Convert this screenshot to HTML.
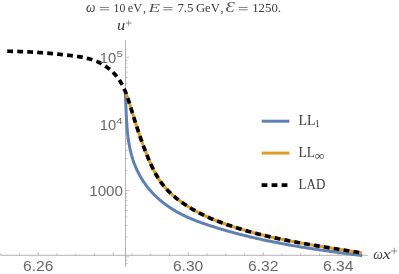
<!DOCTYPE html>
<html><head><meta charset="utf-8">
<style>
html,body{margin:0;padding:0;background:#fff;}
body{width:399px;height:274px;overflow:hidden;position:relative;font-family:"Liberation Sans",sans-serif;}
svg{position:absolute;left:0;top:0;display:block;will-change:transform;transform:translateZ(0);}
.sans{font-family:"Liberation Sans",sans-serif;fill:#6b6b6b;}
.serif{font-family:"Liberation Serif",serif;fill:#3c3c3c;}
</style></head><body>
<svg width="399" height="274" viewBox="0 0 399 274">
<rect x="0" y="0" width="399" height="274" fill="#ffffff"/>
<g stroke="#949494" stroke-width="0.7" fill="none">
<line x1="0.6" y1="255.3" x2="367.8" y2="255.3"/>
<line x1="125.5" y1="40.1" x2="125.5" y2="266.7"/>
</g>
<g stroke="#979797" stroke-width="0.6" fill="none">
<line x1="0.75" y1="255.3" x2="0.75" y2="253.4"/>
<line x1="19.50" y1="255.3" x2="19.50" y2="253.4"/>
<line x1="38.25" y1="255.3" x2="38.25" y2="252.10000000000002"/>
<line x1="57.00" y1="255.3" x2="57.00" y2="253.4"/>
<line x1="75.75" y1="255.3" x2="75.75" y2="253.4"/>
<line x1="94.50" y1="255.3" x2="94.50" y2="253.4"/>
<line x1="113.25" y1="255.3" x2="113.25" y2="252.10000000000002"/>
<line x1="132.00" y1="255.3" x2="132.00" y2="253.4"/>
<line x1="150.75" y1="255.3" x2="150.75" y2="253.4"/>
<line x1="169.50" y1="255.3" x2="169.50" y2="253.4"/>
<line x1="188.25" y1="255.3" x2="188.25" y2="252.10000000000002"/>
<line x1="207.00" y1="255.3" x2="207.00" y2="253.4"/>
<line x1="225.75" y1="255.3" x2="225.75" y2="253.4"/>
<line x1="244.50" y1="255.3" x2="244.50" y2="253.4"/>
<line x1="263.25" y1="255.3" x2="263.25" y2="252.10000000000002"/>
<line x1="282.00" y1="255.3" x2="282.00" y2="253.4"/>
<line x1="300.75" y1="255.3" x2="300.75" y2="253.4"/>
<line x1="319.50" y1="255.3" x2="319.50" y2="253.4"/>
<line x1="338.25" y1="255.3" x2="338.25" y2="252.10000000000002"/>
<line x1="357.00" y1="255.3" x2="357.00" y2="253.4"/>
<line x1="125.5" y1="263.48" x2="127.5" y2="263.48"/>
<line x1="125.5" y1="260.07" x2="127.5" y2="260.07"/>
<line x1="125.5" y1="257.02" x2="129.0" y2="257.02"/>
<line x1="125.5" y1="236.98" x2="127.5" y2="236.98"/>
<line x1="125.5" y1="225.26" x2="127.5" y2="225.26"/>
<line x1="125.5" y1="216.94" x2="127.5" y2="216.94"/>
<line x1="125.5" y1="210.49" x2="127.5" y2="210.49"/>
<line x1="125.5" y1="205.22" x2="127.5" y2="205.22"/>
<line x1="125.5" y1="200.76" x2="127.5" y2="200.76"/>
<line x1="125.5" y1="196.90" x2="127.5" y2="196.90"/>
<line x1="125.5" y1="193.50" x2="127.5" y2="193.50"/>
<line x1="125.5" y1="190.45" x2="129.0" y2="190.45"/>
<line x1="125.5" y1="170.41" x2="127.5" y2="170.41"/>
<line x1="125.5" y1="158.69" x2="127.5" y2="158.69"/>
<line x1="125.5" y1="150.37" x2="127.5" y2="150.37"/>
<line x1="125.5" y1="143.92" x2="127.5" y2="143.92"/>
<line x1="125.5" y1="138.64" x2="127.5" y2="138.64"/>
<line x1="125.5" y1="134.19" x2="127.5" y2="134.19"/>
<line x1="125.5" y1="130.33" x2="127.5" y2="130.33"/>
<line x1="125.5" y1="126.92" x2="127.5" y2="126.92"/>
<line x1="125.5" y1="123.88" x2="129.0" y2="123.88"/>
<line x1="125.5" y1="103.83" x2="127.5" y2="103.83"/>
<line x1="125.5" y1="92.11" x2="127.5" y2="92.11"/>
<line x1="125.5" y1="83.79" x2="127.5" y2="83.79"/>
<line x1="125.5" y1="77.34" x2="127.5" y2="77.34"/>
<line x1="125.5" y1="72.07" x2="127.5" y2="72.07"/>
<line x1="125.5" y1="67.61" x2="127.5" y2="67.61"/>
<line x1="125.5" y1="63.75" x2="127.5" y2="63.75"/>
<line x1="125.5" y1="60.35" x2="127.5" y2="60.35"/>
<line x1="125.5" y1="57.30" x2="129.0" y2="57.30"/>
</g>
<path d="M125.37,94.22 L125.43,95.46 L125.49,96.71 L125.55,97.96 L125.61,99.22 L125.67,100.49 L125.72,101.77 L125.77,103.05 L125.82,104.34 L125.87,105.63 L125.93,106.92 L125.98,108.23 L126.03,109.53 L126.08,110.84 L126.14,112.16 L126.20,113.47 L126.26,114.79 L126.32,116.12 L126.39,117.44 L126.46,118.77 L126.53,120.10 L126.61,121.43 L126.70,122.77 L126.79,124.10 L126.88,125.44 L126.98,126.77 L127.09,128.11 L127.21,129.44 L127.33,130.78 L127.46,132.11 L127.60,133.44 L127.75,134.78 L127.91,136.11 L128.08,137.43 L128.25,138.76 L128.44,140.08 L128.64,141.40 L128.85,142.72 L129.07,144.03 L129.31,145.34 L129.55,146.65 L129.82,147.95 L130.09,149.25 L130.38,150.54 L130.68,151.82 L130.99,153.10 L131.33,154.38 L131.67,155.65 L132.04,156.91 L132.42,158.16 L132.81,159.41 L133.23,160.65 L133.66,161.88 L134.10,163.11 L134.57,164.33 L135.05,165.54 L135.54,166.74 L136.05,167.93 L136.58,169.12 L137.13,170.29 L137.69,171.46 L138.27,172.62 L138.86,173.77 L139.48,174.91 L140.10,176.05 L140.75,177.17 L141.41,178.28 L142.08,179.39 L142.78,180.48 L143.49,181.57 L144.21,182.64 L144.95,183.70 L145.71,184.76 L146.48,185.80 L147.27,186.83 L148.08,187.85 L148.90,188.86 L149.74,189.86 L150.59,190.85 L151.46,191.83 L152.35,192.79 L153.25,193.74 L154.16,194.68 L155.10,195.61 L156.05,196.53 L157.01,197.43 L157.99,198.32 L158.98,199.20 L159.98,200.07 L160.99,200.92 L162.02,201.76 L163.06,202.59 L164.11,203.40 L165.17,204.20 L166.24,204.99 L167.32,205.76 L168.40,206.52 L169.50,207.27 L170.60,208.00 L171.71,208.71 L172.82,209.41 L173.94,210.10 L175.07,210.77 L176.20,211.43 L177.33,212.07 L178.48,212.70 L179.62,213.32 L180.77,213.93 L181.93,214.52 L183.09,215.10 L184.26,215.67 L185.43,216.23 L186.61,216.78 L187.79,217.32 L188.97,217.84 L190.16,218.36 L191.36,218.87 L192.55,219.37 L193.76,219.86 L194.96,220.34 L196.17,220.81 L197.39,221.28 L198.61,221.74 L199.83,222.19 L201.05,222.63 L202.28,223.07 L203.51,223.51 L204.75,223.93 L205.99,224.35 L207.23,224.77 L208.47,225.18 L209.72,225.59 L210.97,226.00 L212.22,226.40 L213.48,226.80 L214.74,227.19 L216.00,227.58 L217.26,227.97 L218.53,228.36 L219.80,228.74 L221.07,229.12 L222.34,229.49 L223.61,229.87 L224.89,230.24 L226.17,230.60 L227.45,230.97 L228.73,231.33 L230.01,231.69 L231.30,232.04 L232.58,232.39 L233.87,232.74 L235.16,233.09 L236.45,233.43 L237.74,233.77 L239.03,234.10 L240.32,234.44 L241.61,234.77 L242.90,235.09 L244.20,235.42 L245.49,235.74 L246.79,236.06 L248.08,236.37 L249.38,236.68 L250.67,236.99 L251.97,237.30 L253.26,237.60 L254.56,237.90 L255.85,238.20 L257.15,238.50 L258.44,238.79 L259.73,239.08 L261.02,239.36 L262.32,239.64 L263.61,239.92 L264.90,240.20 L266.19,240.47 L267.48,240.75 L268.76,241.01 L270.05,241.28 L271.34,241.54 L272.63,241.80 L273.91,242.06 L275.20,242.32 L276.48,242.57 L277.77,242.82 L279.05,243.07 L280.33,243.31 L281.62,243.56 L282.90,243.80 L284.18,244.03 L285.46,244.27 L286.75,244.50 L288.03,244.74 L289.31,244.97 L290.59,245.19 L291.88,245.42 L293.16,245.64 L294.44,245.86 L295.72,246.08 L297.01,246.30 L298.29,246.52 L299.57,246.73 L300.86,246.94 L302.14,247.15 L303.42,247.36 L304.71,247.57 L305.99,247.77 L307.28,247.97 L308.56,248.18 L309.85,248.38 L311.14,248.58 L312.42,248.77 L313.71,248.97 L315.00,249.16 L316.29,249.36 L317.58,249.55 L318.87,249.74 L320.16,249.93 L321.45,250.12 L322.75,250.31 L324.04,250.49 L325.34,250.68 L326.64,250.86 L327.93,251.05 L329.23,251.23 L330.53,251.41 L331.83,251.59 L333.14,251.77 L334.44,251.95 L335.74,252.13 L337.05,252.30 L338.36,252.48 L339.67,252.66 L340.98,252.83 L342.29,253.01 L343.60,253.18 L344.92,253.36 L346.23,253.53 L347.55,253.70 L348.87,253.88 L350.19,254.05 L351.52,254.22 L352.84,254.39 L354.17,254.56 L355.50,254.74 L356.83,254.91 L358.16,255.08 L359.50,255.25 L360.83,255.42 L362.17,255.59" fill="none" stroke="#5E81B5" stroke-width="3" stroke-linejoin="round"/>
<path d="M125.94,93.16 L126.45,94.49 L126.93,95.83 L127.41,97.17 L127.87,98.52 L128.32,99.88 L128.76,101.24 L129.20,102.60 L129.63,103.96 L130.05,105.33 L130.47,106.69 L130.89,108.05 L131.32,109.41 L131.74,110.76 L132.16,112.11 L132.58,113.46 L133.00,114.81 L133.42,116.16 L133.84,117.50 L134.26,118.84 L134.68,120.18 L135.11,121.52 L135.53,122.86 L135.96,124.19 L136.39,125.52 L136.82,126.85 L137.26,128.18 L137.69,129.51 L138.13,130.83 L138.58,132.16 L139.02,133.48 L139.47,134.80 L139.92,136.12 L140.38,137.44 L140.84,138.76 L141.30,140.08 L141.77,141.39 L142.24,142.71 L142.72,144.02 L143.20,145.33 L143.69,146.65 L144.18,147.96 L144.68,149.27 L145.18,150.58 L145.69,151.89 L146.21,153.19 L146.73,154.50 L147.26,155.81 L147.80,157.12 L148.34,158.43 L148.89,159.73 L149.45,161.04 L150.02,162.34 L150.60,163.64 L151.18,164.93 L151.78,166.22 L152.39,167.51 L153.02,168.78 L153.65,170.05 L154.30,171.31 L154.97,172.57 L155.65,173.81 L156.35,175.04 L157.06,176.26 L157.79,177.47 L158.54,178.66 L159.31,179.84 L160.10,181.01 L160.90,182.16 L161.73,183.29 L162.58,184.41 L163.45,185.51 L164.35,186.59 L165.26,187.65 L166.18,188.70 L167.13,189.73 L168.09,190.74 L169.07,191.74 L170.07,192.72 L171.08,193.68 L172.11,194.62 L173.15,195.54 L174.21,196.45 L175.28,197.34 L176.36,198.22 L177.45,199.08 L178.55,199.92 L179.67,200.76 L180.79,201.58 L181.93,202.40 L183.07,203.20 L184.22,203.99 L185.38,204.78 L186.55,205.55 L187.73,206.31 L188.92,207.06 L190.11,207.80 L191.31,208.53 L192.52,209.25 L193.74,209.96 L194.96,210.65 L196.19,211.34 L197.43,212.01 L198.67,212.67 L199.92,213.32 L201.18,213.96 L202.44,214.59 L203.71,215.20 L204.98,215.81 L206.26,216.40 L207.54,216.98 L208.82,217.56 L210.11,218.12 L211.41,218.68 L212.71,219.22 L214.01,219.76 L215.32,220.29 L216.63,220.81 L217.94,221.32 L219.26,221.82 L220.57,222.32 L221.89,222.81 L223.22,223.29 L224.54,223.77 L225.87,224.24 L227.20,224.70 L228.53,225.16 L229.86,225.62 L231.19,226.07 L232.53,226.51 L233.87,226.95 L235.20,227.38 L236.54,227.80 L237.89,228.22 L239.23,228.64 L240.57,229.05 L241.92,229.45 L243.27,229.85 L244.61,230.25 L245.96,230.64 L247.32,231.03 L248.67,231.41 L250.02,231.78 L251.38,232.15 L252.73,232.52 L254.09,232.88 L255.45,233.24 L256.81,233.59 L258.17,233.94 L259.53,234.29 L260.90,234.63 L262.26,234.97 L263.63,235.30 L265.00,235.63 L266.36,235.95 L267.73,236.27 L269.10,236.59 L270.47,236.91 L271.85,237.22 L273.22,237.52 L274.59,237.83 L275.97,238.13 L277.34,238.42 L278.72,238.71 L280.10,239.00 L281.47,239.29 L282.85,239.58 L284.23,239.86 L285.61,240.13 L286.99,240.41 L288.37,240.68 L289.76,240.95 L291.14,241.22 L292.52,241.48 L293.91,241.74 L295.29,242.00 L296.68,242.26 L298.06,242.52 L299.45,242.77 L300.83,243.02 L302.22,243.27 L303.61,243.51 L305.00,243.76 L306.38,244.00 L307.77,244.24 L309.16,244.48 L310.55,244.72 L311.94,244.95 L313.33,245.19 L314.72,245.42 L316.11,245.65 L317.50,245.88 L318.89,246.11 L320.28,246.33 L321.67,246.56 L323.06,246.78 L324.45,247.01 L325.84,247.23 L327.24,247.45 L328.63,247.67 L330.02,247.90 L331.41,248.12 L332.80,248.33 L334.19,248.55 L335.58,248.77 L336.97,248.99 L338.36,249.21 L339.75,249.42 L341.14,249.64 L342.53,249.86 L343.92,250.08 L345.31,250.29 L346.70,250.51 L348.09,250.73 L349.48,250.94 L350.87,251.16 L352.26,251.38 L353.65,251.60 L355.03,251.82 L356.42,252.04 L357.81,252.26 L359.19,252.48 L360.58,252.70 L361.96,252.92" fill="none" stroke="#E19C24" stroke-width="3.1" stroke-linejoin="round"/>
<path d="M7.16,51.20 L8.57,51.23 L9.98,51.26 L11.39,51.29 L12.80,51.33 L14.21,51.36 L15.62,51.40 L17.03,51.45 L18.44,51.49 L19.85,51.54 L21.25,51.59 L22.66,51.64 L24.07,51.70 L25.47,51.76 L26.88,51.82 L28.28,51.88 L29.69,51.95 L31.09,52.02 L32.49,52.10 L33.89,52.18 L35.29,52.26 L36.69,52.35 L38.09,52.44 L39.49,52.53 L40.88,52.63 L42.28,52.74 L43.67,52.84 L45.06,52.95 L46.46,53.07 L47.85,53.18 L49.24,53.31 L50.63,53.43 L52.03,53.56 L53.42,53.69 L54.82,53.83 L56.21,53.97 L57.61,54.11 L59.01,54.25 L60.41,54.40 L61.81,54.55 L63.22,54.71 L64.63,54.87 L66.04,55.03 L67.45,55.19 L68.86,55.36 L70.28,55.53 L71.70,55.70 L73.12,55.88 L74.54,56.07 L75.97,56.26 L77.38,56.47 L78.80,56.69 L80.21,56.92 L81.62,57.17 L83.02,57.43 L84.42,57.71 L85.81,58.02 L87.19,58.34 L88.56,58.69 L89.92,59.06 L91.27,59.45 L92.61,59.88 L93.93,60.33 L95.24,60.81 L96.54,61.33 L97.82,61.88 L99.08,62.46 L100.32,63.08 L101.55,63.73 L102.76,64.42 L103.94,65.14 L105.11,65.89 L106.26,66.68 L107.38,67.49 L108.48,68.34 L109.56,69.21 L110.62,70.12 L111.65,71.05 L112.65,72.01 L113.63,73.00 L114.58,74.01 L115.51,75.05 L116.40,76.11 L117.27,77.20 L118.11,78.31 L118.92,79.45 L119.70,80.60 L120.45,81.78 L121.16,82.98 L121.85,84.19 L122.51,85.43 L123.14,86.68 L123.74,87.95 L124.32,89.23 L124.88,90.53 L125.42,91.84 L125.94,93.16 L126.45,94.49 L126.93,95.83 L127.41,97.17 L127.87,98.52 L128.32,99.88 L128.76,101.24 L129.20,102.60 L129.63,103.96 L130.05,105.33 L130.47,106.69 L130.89,108.05 L131.32,109.41 L131.74,110.76 L132.16,112.11 L132.58,113.46 L133.00,114.81 L133.42,116.16 L133.84,117.50 L134.26,118.84 L134.68,120.18 L135.11,121.52 L135.53,122.86 L135.96,124.19 L136.39,125.52 L136.82,126.85 L137.26,128.18 L137.69,129.51 L138.13,130.83 L138.58,132.16 L139.02,133.48 L139.47,134.80 L139.92,136.12 L140.38,137.44 L140.84,138.76 L141.30,140.08 L141.77,141.39 L142.24,142.71 L142.72,144.02 L143.20,145.33 L143.69,146.65 L144.18,147.96 L144.68,149.27 L145.18,150.58 L145.69,151.89 L146.21,153.19 L146.73,154.50 L147.26,155.81 L147.80,157.12 L148.34,158.43 L148.89,159.73 L149.45,161.04 L150.02,162.34 L150.60,163.64 L151.18,164.93 L151.78,166.22 L152.39,167.51 L153.02,168.78 L153.65,170.05 L154.30,171.31 L154.97,172.57 L155.65,173.81 L156.35,175.04 L157.06,176.26 L157.79,177.47 L158.54,178.66 L159.31,179.84 L160.10,181.01 L160.90,182.16 L161.73,183.29 L162.58,184.41 L163.45,185.51 L164.35,186.59 L165.26,187.65 L166.18,188.70 L167.13,189.73 L168.09,190.74 L169.07,191.74 L170.07,192.72 L171.08,193.68 L172.11,194.62 L173.15,195.54 L174.21,196.45 L175.28,197.34 L176.36,198.22 L177.45,199.08 L178.55,199.92 L179.67,200.76 L180.79,201.58 L181.93,202.40 L183.07,203.20 L184.22,203.99 L185.38,204.78 L186.55,205.55 L187.73,206.31 L188.92,207.06 L190.11,207.80 L191.31,208.53 L192.52,209.25 L193.74,209.96 L194.96,210.65 L196.19,211.34 L197.43,212.01 L198.67,212.67 L199.92,213.32 L201.18,213.96 L202.44,214.59 L203.71,215.20 L204.98,215.81 L206.26,216.40 L207.54,216.98 L208.82,217.56 L210.11,218.12 L211.41,218.68 L212.71,219.22 L214.01,219.76 L215.32,220.29 L216.63,220.81 L217.94,221.32 L219.26,221.82 L220.57,222.32 L221.89,222.81 L223.22,223.29 L224.54,223.77 L225.87,224.24 L227.20,224.70 L228.53,225.16 L229.86,225.62 L231.19,226.07 L232.53,226.51 L233.87,226.95 L235.20,227.38 L236.54,227.80 L237.89,228.22 L239.23,228.64 L240.57,229.05 L241.92,229.45 L243.27,229.85 L244.61,230.25 L245.96,230.64 L247.32,231.03 L248.67,231.41 L250.02,231.78 L251.38,232.15 L252.73,232.52 L254.09,232.88 L255.45,233.24 L256.81,233.59 L258.17,233.94 L259.53,234.29 L260.90,234.63 L262.26,234.97 L263.63,235.30 L265.00,235.63 L266.36,235.95 L267.73,236.27 L269.10,236.59 L270.47,236.91 L271.85,237.22 L273.22,237.52 L274.59,237.83 L275.97,238.13 L277.34,238.42 L278.72,238.71 L280.10,239.00 L281.47,239.29 L282.85,239.58 L284.23,239.86 L285.61,240.13 L286.99,240.41 L288.37,240.68 L289.76,240.95 L291.14,241.22 L292.52,241.48 L293.91,241.74 L295.29,242.00 L296.68,242.26 L298.06,242.52 L299.45,242.77 L300.83,243.02 L302.22,243.27 L303.61,243.51 L305.00,243.76 L306.38,244.00 L307.77,244.24 L309.16,244.48 L310.55,244.72 L311.94,244.95 L313.33,245.19 L314.72,245.42 L316.11,245.65 L317.50,245.88 L318.89,246.11 L320.28,246.33 L321.67,246.56 L323.06,246.78 L324.45,247.01 L325.84,247.23 L327.24,247.45 L328.63,247.67 L330.02,247.90 L331.41,248.12 L332.80,248.33 L334.19,248.55 L335.58,248.77 L336.97,248.99 L338.36,249.21 L339.75,249.42 L341.14,249.64 L342.53,249.86 L343.92,250.08 L345.31,250.29 L346.70,250.51 L348.09,250.73 L349.48,250.94 L350.87,251.16 L352.26,251.38 L353.65,251.60 L355.03,251.82 L356.42,252.04 L357.81,252.26 L359.19,252.48 L360.58,252.70 L361.96,252.92" fill="none" stroke="#000" stroke-width="3.7" stroke-dasharray="5.8 4.2" stroke-dashoffset="-0.1" stroke-linejoin="round"/>
<line x1="261.7" y1="121.2" x2="289.4" y2="121.2" stroke="#5E81B5" stroke-width="3"/>
<line x1="261.7" y1="153.1" x2="289.4" y2="153.1" stroke="#E19C24" stroke-width="3"/>
<line x1="261.6" y1="185.1" x2="289.4" y2="185.1" stroke="#000" stroke-width="3.6" stroke-dasharray="5.8 4.2"/>
<g class="serif">
<text x="298.6" y="124.6" font-size="14" textLength="17.00" lengthAdjust="spacingAndGlyphs" >LL</text>
<text x="315.0" y="126.6" font-size="9.5" textLength="4.80" lengthAdjust="spacingAndGlyphs" >1</text>
<text x="298.6" y="156.6" font-size="14" textLength="16.40" lengthAdjust="spacingAndGlyphs" >LL</text>
<text x="314.4" y="160.0" font-size="13" textLength="10.00" lengthAdjust="spacingAndGlyphs" >∞</text>
<text x="298.6" y="188.5" font-size="14" textLength="26.80" lengthAdjust="spacingAndGlyphs" >LAD</text>
</g>
<g class="sans">
<text x="23.05" y="270.6" font-size="14" textLength="30.40" lengthAdjust="spacingAndGlyphs" >6.26</text>
<text x="172.9" y="270.6" font-size="14" textLength="30.40" lengthAdjust="spacingAndGlyphs" >6.30</text>
<text x="248.0" y="270.6" font-size="14" textLength="30.40" lengthAdjust="spacingAndGlyphs" >6.32</text>
<text x="323.0" y="270.6" font-size="14" textLength="30.40" lengthAdjust="spacingAndGlyphs" >6.34</text>
<text x="89.2" y="195.8" font-size="14" textLength="33.80" lengthAdjust="spacingAndGlyphs" >1000</text>
<text x="99.8" y="129.5" font-size="14" textLength="16.40" lengthAdjust="spacingAndGlyphs" >10</text>
<text x="116.2" y="123.6" font-size="9.2" textLength="6.40" lengthAdjust="spacingAndGlyphs" >4</text>
<text x="99.8" y="62.8" font-size="14" textLength="16.40" lengthAdjust="spacingAndGlyphs" >10</text>
<text x="116.4" y="56.6" font-size="9.2" textLength="6.40" lengthAdjust="spacingAndGlyphs" >5</text>
</g>
<g class="serif">
<text x="86.0" y="12.2" font-size="14.8" textLength="9.40" lengthAdjust="spacingAndGlyphs" font-style="italic">ω</text>
<line x1="99.8" y1="7.45" x2="109.0" y2="7.45" stroke="#484848" stroke-width="0.7"/><line x1="99.8" y1="9.8" x2="109.0" y2="9.8" stroke="#484848" stroke-width="0.7"/>
<text x="113.6" y="12.1" font-size="12.8" textLength="11.80" lengthAdjust="spacingAndGlyphs" >10</text>
<text x="127.8" y="12.1" font-size="12.8" textLength="14.40" lengthAdjust="spacingAndGlyphs" >eV</text>
<text x="143.0" y="12.1" font-size="12.8" textLength="3.00" lengthAdjust="spacingAndGlyphs" >,</text>
<text x="148.4" y="12.1" font-size="12.8" textLength="11.60" lengthAdjust="spacingAndGlyphs" font-style="italic" fill="#555">E</text>
<line x1="163.4" y1="7.45" x2="172.5" y2="7.45" stroke="#484848" stroke-width="0.7"/><line x1="163.4" y1="9.8" x2="172.5" y2="9.8" stroke="#484848" stroke-width="0.7"/>
<text x="177.4" y="12.1" font-size="12.8" textLength="16.10" lengthAdjust="spacingAndGlyphs" >7.5</text>
<text x="195.9" y="12.1" font-size="12.8" textLength="23.90" lengthAdjust="spacingAndGlyphs" >GeV</text>
<text x="220.6" y="12.1" font-size="12.8" textLength="3.00" lengthAdjust="spacingAndGlyphs" >,</text>
<text x="225.6" y="12.299999999999999" font-size="14" textLength="9.40" lengthAdjust="spacingAndGlyphs" font-style="italic" fill="#555">Ɛ</text>
<line x1="238.6" y1="7.45" x2="247.6" y2="7.45" stroke="#484848" stroke-width="0.7"/><line x1="238.6" y1="9.8" x2="247.6" y2="9.8" stroke="#484848" stroke-width="0.7"/>
<text x="252.2" y="12.1" font-size="12.8" textLength="25.60" lengthAdjust="spacingAndGlyphs" >1250</text>
<text x="278.0" y="12.1" font-size="12.8" textLength="3.00" lengthAdjust="spacingAndGlyphs" >.</text>
<text x="117.0" y="30.2" font-size="15" textLength="8.20" lengthAdjust="spacingAndGlyphs" font-style="italic">u</text><line x1="125.89999999999999" y1="23.1" x2="131.5" y2="23.1" stroke="#5a5a5a" stroke-width="0.65"/><line x1="128.7" y1="20.3" x2="128.7" y2="25.900000000000002" stroke="#5a5a5a" stroke-width="0.65"/>
<text x="373.3" y="258.9" font-size="15" textLength="9.60" lengthAdjust="spacingAndGlyphs" font-style="italic">ω</text><text x="382.8" y="258.9" font-size="15" textLength="8.00" lengthAdjust="spacingAndGlyphs" font-style="italic">x</text><line x1="391.0" y1="251.0" x2="397.4" y2="251.0" stroke="#5a5a5a" stroke-width="0.65"/><line x1="394.2" y1="247.8" x2="394.2" y2="254.2" stroke="#5a5a5a" stroke-width="0.65"/>
</g>
</svg>
</body></html>
